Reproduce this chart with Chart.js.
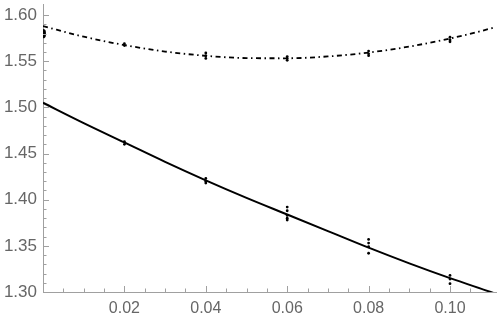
<!DOCTYPE html>
<html>
<head>
<meta charset="utf-8">
<script src="https://cdn.jsdelivr.net/npm/chart.js@4"></script>
<style>
  body { margin: 0; background: #fff; }
</style>
</head>
<body>
<canvas id="fitChart" width="500" height="318"></canvas>
<script>
// fitted curves, sampled along x
const curveX   = [0, 0.01, 0.02, 0.03, 0.04, 0.05, 0.06, 0.07, 0.08, 0.09, 0.10, 0.11, 0.1113];
const upperFit = [1.588, 1.5766, 1.5675, 1.5605, 1.5559, 1.5534, 1.5532, 1.5552, 1.5594, 1.5659, 1.5746, 1.5855, 1.5872];
const lowerFit = [1.505, 1.483, 1.462, 1.441, 1.421, 1.402, 1.384, 1.366, 1.348, 1.331, 1.315, 1.300, 1.298];

// measured samples
const upperPtX = [0, 0, 0, 0.02, 0.02, 0.04, 0.04, 0.04, 0.06, 0.06, 0.06, 0.08, 0.08, 0.08, 0.10, 0.10, 0.10];
const upperPtY = [1.578, 1.580, 1.582, 1.569, 1.567, 1.559, 1.556, 1.553, 1.555, 1.553, 1.551, 1.561, 1.558, 1.556, 1.576, 1.573, 1.571];
const lowerPtX = [0.02, 0.02, 0.04, 0.04, 0.04, 0.06, 0.06, 0.06, 0.06, 0.06, 0.08, 0.08, 0.08, 0.08, 0.10, 0.10, 0.10];
const lowerPtY = [1.463, 1.460, 1.423, 1.420, 1.418, 1.392, 1.388, 1.383, 1.380, 1.378, 1.357, 1.353, 1.349, 1.342, 1.318, 1.314, 1.309];

const xMin = 0, xMax = 0.1113;
const yMin = 1.30, yMax = 1.612;

const axisColor = '#a0a0a0';
const labelColor = '#666666';

const pairs = (xs, ys) => xs.map((x, i) => ({ x: x, y: ys[i] }));

// Mathematica-like ticks pointing into the plot
const innerTicks = {
    id: 'innerTicks',
    afterDatasetsDraw(chart) {
        const { ctx, chartArea: a, scales: { x, y } } = chart;
        ctx.save();
        ctx.strokeStyle = axisColor;
        ctx.lineWidth = 1;
        ctx.beginPath();
        x.ticks.forEach(t => {
            const k = Math.round(t.value * 1000);
            if (Math.abs(t.value * 1000 - k) > 1e-6 || k % 5 !== 0 || k === 0) return;
            const px = Math.round(x.getPixelForValue(t.value)) + 0.5;
            const len = k % 20 === 0 ? 6 : 3.5;
            ctx.moveTo(px, a.bottom);
            ctx.lineTo(px, a.bottom - len);
        });
        y.ticks.forEach(t => {
            const k = Math.round(t.value * 100);
            if (Math.abs(t.value * 100 - k) > 1e-6 || k === 130) return;
            const py = Math.round(y.getPixelForValue(t.value)) + 0.5;
            const len = k % 5 === 0 ? 6 : 3.5;
            ctx.moveTo(a.left, py);
            ctx.lineTo(a.left + len, py);
        });
        ctx.stroke();
        ctx.restore();
    }
};

const ctx = document.getElementById('fitChart').getContext('2d');

new Chart(ctx, {
    type: 'scatter',
    data: {
        datasets: [{
            type: 'line',
            data: pairs(curveX, upperFit),
            borderColor: '#000',
            borderWidth: 1.8,
            borderDash: [5, 3.5, 1.5, 3.5],
            cubicInterpolationMode: 'monotone',
            pointRadius: 0,
            fill: false
        }, {
            type: 'line',
            data: pairs(curveX, lowerFit),
            borderColor: '#000',
            borderWidth: 2,
            cubicInterpolationMode: 'monotone',
            pointRadius: 0,
            fill: false
        }, {
            data: pairs(upperPtX, upperPtY),
            backgroundColor: '#000',
            borderWidth: 0,
            pointRadius: c => upperPtX[c.dataIndex] === 0 ? 2.8 : 1.4
        }, {
            data: pairs(lowerPtX, lowerPtY),
            backgroundColor: '#000',
            borderWidth: 0,
            pointRadius: 1.4
        }]
    },
    options: {
        responsive: false,
        animation: false,
        layout: { padding: 0 },
        plugins: {
            legend: { display: false },
            tooltip: { enabled: false }
        },
        scales: {
            x: {
                type: 'linear',
                min: xMin,
                max: xMax,
                afterFit: s => { s.height = 26; s.paddingLeft = 0; s.paddingRight = 0; },
                grid: { drawOnChartArea: false, drawTicks: false },
                border: { color: axisColor, width: 1 },
                ticks: {
                    stepSize: 0.005,
                    autoSkip: false,
                    maxRotation: 0,
                    padding: 7,
                    color: labelColor,
                    font: { family: 'Liberation Sans', size: 16 },
                    callback: v => {
                        const k = Math.round(v * 1000);
                        return (k > 0 && k % 20 === 0 && Math.abs(v * 1000 - k) < 1e-6) ? v.toFixed(2) : '';
                    }
                }
            },
            y: {
                type: 'linear',
                min: yMin,
                max: yMax,
                afterFit: s => { s.width = 43; s.paddingTop = 0; s.paddingBottom = 0; },
                grid: { drawOnChartArea: false, drawTicks: false },
                border: { color: axisColor, width: 1 },
                ticks: {
                    stepSize: 0.01,
                    autoSkip: false,
                    padding: 6,
                    color: labelColor,
                    font: { family: 'Liberation Sans', size: 17 },
                    callback: v => {
                        const k = Math.round(v * 100);
                        return (k % 5 === 0 && Math.abs(v * 100 - k) < 1e-6) ? v.toFixed(2) : '';
                    }
                }
            }
        }
    },
    plugins: [innerTicks]
});
</script>
</body>
</html>
